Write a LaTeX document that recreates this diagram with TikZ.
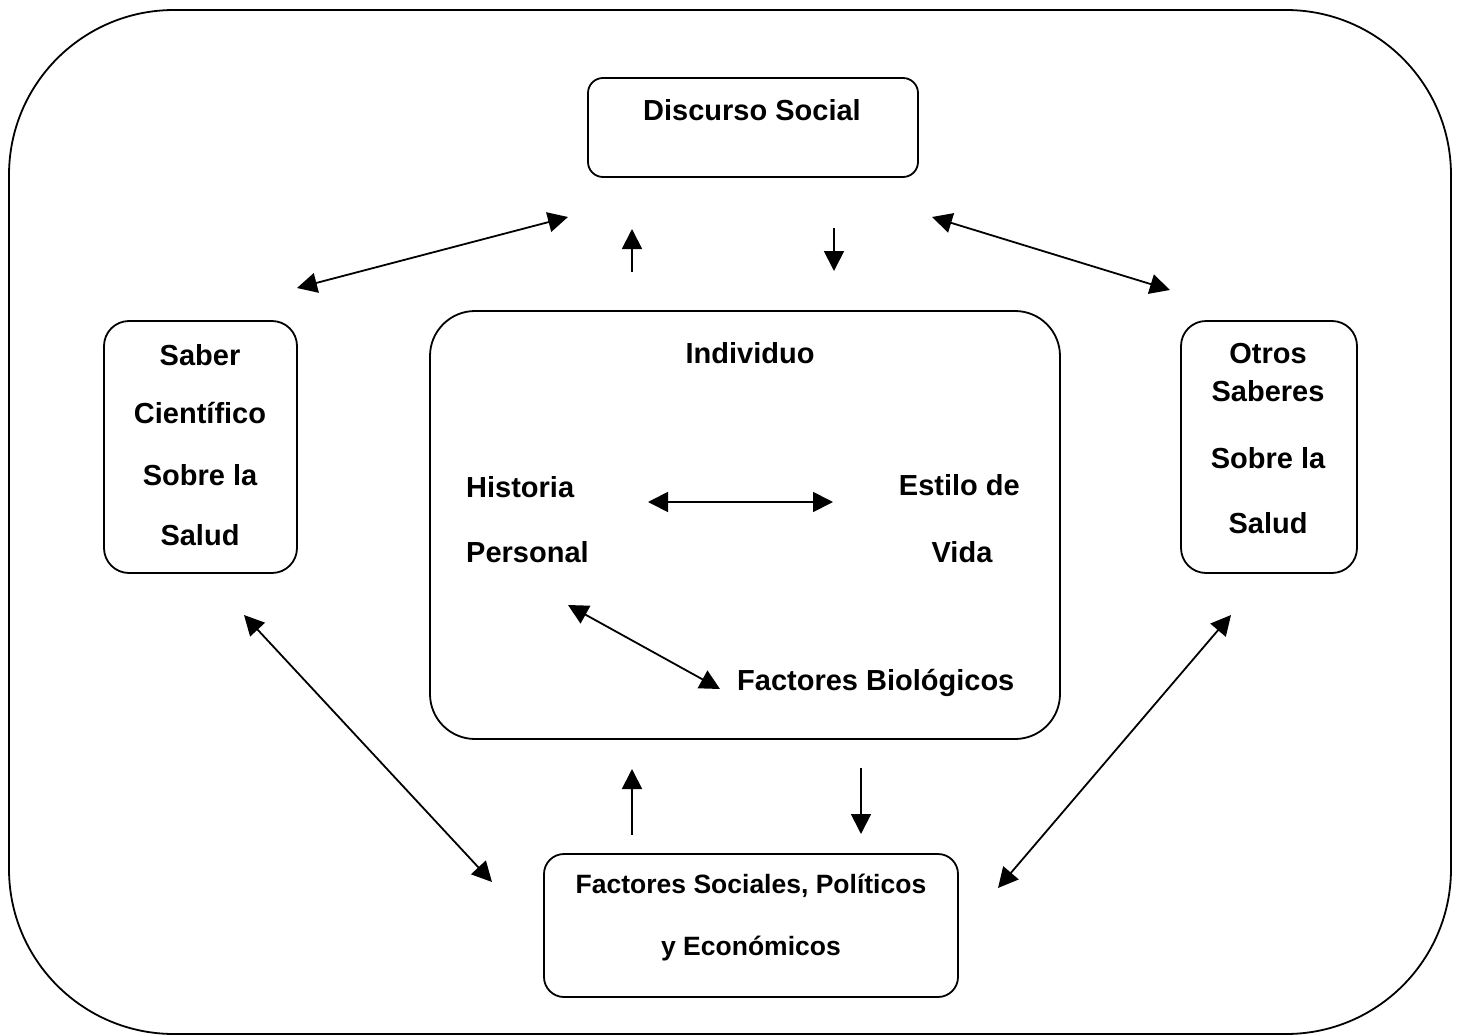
\documentclass[tikz,border=0pt]{standalone}
\usepackage{fontspec}
\setmainfont{Liberation Sans}
\usetikzlibrary{arrows.meta}
\begin{document}
\begin{tikzpicture}[x=1pt,y=-1pt,
  box/.style={draw,line width=1.8pt},
  txt/.style={inner sep=0pt,anchor=base,font=\bfseries\fontsize{29}{35}\selectfont},
  txts/.style={inner sep=0pt,anchor=base,font=\bfseries\fontsize{26.5}{32}\selectfont},
  conn/.style={line width=1.8pt,-{Triangle[length=20pt,width=20pt]}},
  biconn/.style={line width=1.8pt,{Triangle[length=20pt,width=20pt]}-{Triangle[length=20pt,width=20pt]}}]
\useasboundingbox (0,0) rectangle (1460,1036);
% outer frame
\draw[box,rounded corners=165pt] (9,10) rectangle (1451,1034);
% boxes
\draw[box,rounded corners=15pt] (588,78) rectangle (918,177);
\draw[box,rounded corners=25pt] (104,321) rectangle (297,573);
\draw[box,rounded corners=25pt] (1181,321) rectangle (1357,573);
\draw[box,rounded corners=45pt] (430,311) rectangle (1060,739);
\draw[box,rounded corners=20pt] (544,854) rectangle (958,997);
% texts
\node[txt] (ds) at (752,120) {Discurso Social};
\node[txt] (sc1) at (200,365) {Saber};
\node[txt] (sc2) at (200,423) {Científico};
\node[txt] (sc3) at (200,485) {Sobre la};
\node[txt] (sc4) at (200,545) {Salud};
\node[txt] (os1) at (1268,363) {Otros};
\node[txt] (os2) at (1268,401) {Saberes};
\node[txt] (os3) at (1268,468) {Sobre la};
\node[txt] (os4) at (1268,533) {Salud};
\node[txt] (ind) at (750,363) {Individuo};
\node[txt,anchor=base west] (hp1) at (466,497) {Historia};
\node[txt,anchor=base west] (hp2) at (466,562) {Personal};
\node[txt,anchor=base east] (ev1) at (1020,495) {Estilo de};
\node[txt] (ev2) at (962,562) {Vida};
\node[txt,anchor=base west] (fb) at (737,690) {Factores Biológicos};
\node[txts] (fs1) at (751,893) {Factores Sociales, Políticos};
\node[txts] (fs2) at (751,955) {y Económicos};
% arrow end points
\coordinate (a1) at (297,288); \coordinate (a2) at (568,217);
\coordinate (b1) at (632,272); \coordinate (b2) at (632,229);
\coordinate (c1) at (834,228); \coordinate (c2) at (834,271);
\coordinate (d1) at (932,217); \coordinate (d2) at (1170,290);
\coordinate (e1) at (648,502); \coordinate (e2) at (833,502);
\coordinate (f1) at (568,605); \coordinate (f2) at (720,689);
\coordinate (g1) at (632,835); \coordinate (g2) at (632,769);
\coordinate (h1) at (861,768); \coordinate (h2) at (861,834);
\coordinate (i1) at (244,615); \coordinate (i2) at (492,882);
\coordinate (j1) at (1231,615); \coordinate (j2) at (998,888);
% connectors
\draw[biconn] (a1) -- (a2);
\draw[conn] (b1) -- (b2);
\draw[conn] (c1) -- (c2);
\draw[biconn] (d1) -- (d2);
\draw[biconn] (e1) -- (e2);
\draw[biconn] (f1) -- (f2);
\draw[conn] (g1) -- (g2);
\draw[conn] (h1) -- (h2);
\draw[biconn] (i1) -- (i2);
\draw[biconn] (j1) -- (j2);
\end{tikzpicture}
\end{document}
